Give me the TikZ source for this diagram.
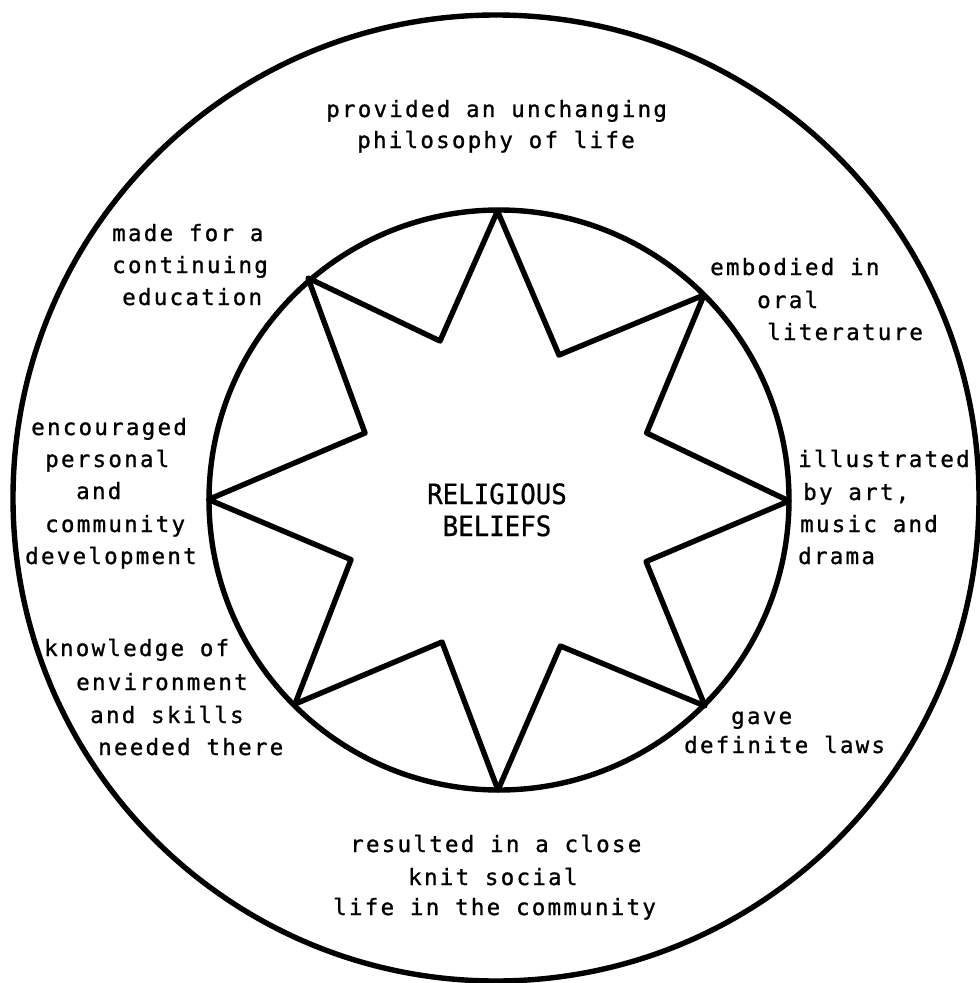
\documentclass[tikz,border=0pt]{standalone}
\usepackage{fontspec}
\newfontfamily\labelfont[LetterSpace=10,FakeBold=1]{DejaVu Sans Mono}
\newfontfamily\titlefont[FakeStretch=0.92,FakeBold=0.6]{DejaVu Sans Mono}
\tikzset{
  lbl/.style={anchor=base west, inner sep=0pt, font=\labelfont\fontsize{22.5}{27}\selectfont},
  ttl/.style={anchor=base, inner sep=0pt, font=\titlefont\fontsize{28}{32}\selectfont},
  ring/.style={draw=black, line width=5.4pt},
  starline/.style={draw=black, line width=5.4pt, line join=round}
}
\begin{document}
\begin{tikzpicture}[x=1pt,y=-1pt]
\useasboundingbox (0,0) rectangle (980,983);
\fill[white] (0,0) rectangle (980,983);
% rings
\draw[ring] (496,498) circle[radius=483];
\draw[ring] (499,500) circle[radius=290];
% star
\draw[starline] (497.5,211) -- (559,355) -- (704,295) -- (646.6,433) -- (789,501)
  -- (646,561.6) -- (705,706) -- (560.4,646) -- (498,790) -- (442,642)
  -- (295,704) -- (351,559.6) -- (208.5,499.5) -- (365,433) -- (308,278)
  -- (440,341) -- cycle;
% centre
\node[ttl] (c1) at (497,504) {RELIGIOUS};
\node[ttl] (c2) at (497,536) {BELIEFS};
% top
\node[lbl] (t1) at (326,117) {provided an unchanging};
\node[lbl] (t2) at (357,148) {philosophy of life};
% north-west
\node[lbl] (nw1) at (112,241) {made for a};
\node[lbl] (nw2) at (112,273) {continuing};
\node[lbl] (nw3) at (122,305) {education};
% north-east
\node[lbl] (ne1) at (710,275) {embodied in};
\node[lbl] (ne2) at (757,308) {oral};
\node[lbl] (ne3) at (767,340) {literature};
% west
\node[lbl] (w1) at (31,435) {encouraged};
\node[lbl] (w2) at (45,467) {personal};
\node[lbl] (w3) at (76,499) {and};
\node[lbl] (w4) at (45,532) {community};
\node[lbl] (w5) at (25,564) {development};
% east
\node[lbl] (e1) at (798,467) {illustrated};
\node[lbl] (e2) at (803,500) {by art,};
\node[lbl] (e3) at (800,532) {music and};
\node[lbl] (e4) at (798,564) {drama};
% south-west
\node[lbl] (sw1) at (44,656) {knowledge of};
\node[lbl] (sw2) at (76,690) {environment};
\node[lbl] (sw3) at (90,723) {and skills};
\node[lbl] (sw4) at (98,755) {needed there};
% south-east
\node[lbl] (se1) at (731,724) {gave};
\node[lbl] (se2) at (684,753) {definite laws};
% bottom
\node[lbl] (b1) at (350,852) {resulted in a close};
\node[lbl] (b2) at (408,885) {knit social};
\node[lbl] (b3) at (333,915) {life in the community};
\end{tikzpicture}
\end{document}
